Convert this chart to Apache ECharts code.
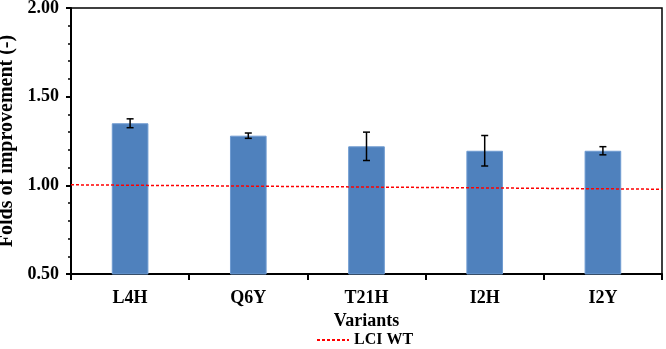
<!DOCTYPE html>
<html>
<head>
<meta charset="utf-8">
<script src="https://cdn.jsdelivr.net/npm/echarts@6/dist/echarts.min.js"></script>
<style>
  html, body { margin: 0; padding: 0; background: #fff; }
  #chart { width: 666px; height: 349px; }
</style>
</head>
<body>
<div id="chart"></div>
<script>
var variants = ['L4H', 'Q6Y', 'T21H', 'I2H', 'I2Y'];
var folds = [1.35, 1.28, 1.22, 1.195, 1.195];
var foldErr = [0.025, 0.015, 0.08, 0.086, 0.023];
// wild type reference line, left edge -> right edge
var wtPos = [0, 1];
var wtVal = [1.003, 0.978];

var font = '"Liberation Serif", "Times New Roman", serif';

var errData = variants.map(function(v, i) {
	return [i, folds[i] - foldErr[i], folds[i] + foldErr[i]];
});
var wtData = wtPos.map(function(p, i) { return [p, wtVal[i]]; });

var chart = echarts.init(document.getElementById('chart'));

chart.setOption({
	animation: false,
	grid: {
		left: 71, right: 4, top: 8, bottom: 75,
		outerBoundsMode: 'none',
		containLabel: false,
		show: true, borderColor: '#000', borderWidth: 1.5
	},
	legend: {
		top: 327,
		left: 311,
		data: ['LCI WT'],
		itemWidth: 32,
		itemHeight: 10,
		itemGap: 4,
		itemStyle: { opacity: 0 },
		textStyle: { fontFamily: font, fontWeight: 'bold', fontSize: 16, color: '#000' }
	},
	xAxis: [{
		type: 'category',
		data: variants,
		name: 'Variants',
		nameLocation: 'middle',
		nameGap: 38,
		nameTextStyle: { fontFamily: font, fontWeight: 'bold', fontSize: 18, color: '#000' },
		axisLine: { lineStyle: { color: '#000', width: 2 } },
		axisTick: { show: true, length: 6, lineStyle: { color: '#000', width: 2 } },
		axisLabel: { fontFamily: font, fontWeight: 'bold', fontSize: 18, color: '#000', margin: 15 }
	}, {
		type: 'value',
		min: 0, max: 1,
		show: false
	}],
	yAxis: {
		type: 'value',
		min: 0.5, max: 2.0, interval: 0.5,
		name: 'Folds of improvement (-)',
		nameLocation: 'middle',
		nameGap: 52,
		nameTextStyle: { fontFamily: font, fontWeight: 'bold', fontSize: 20, color: '#000' },
		axisLine: { show: true, lineStyle: { color: '#000', width: 2 } },
		axisTick: { show: true, length: 5, lineStyle: { color: '#000', width: 2 } },
		minorTick: { show: true, splitNumber: 5, length: 3, lineStyle: { color: '#000', width: 1.5 } },
		splitLine: { show: false },
		axisLabel: {
			fontFamily: font, fontWeight: 'bold', fontSize: 18, color: '#000', margin: 12,
			formatter: function(v) { return v.toFixed(2); }
		}
	},
	series: [{
		name: 'Folds',
		type: 'bar',
		data: folds,
		barWidth: '31%',
		itemStyle: { color: '#4f81bd', borderColor: '#6f9bd1', borderWidth: 1 },
		z: 2
	}, {
		name: 'err',
		type: 'custom',
		data: errData,
		z: 3,
		renderItem: function(params, api) {
			var x = api.value(0);
			var lo = api.coord([x, api.value(1)]);
			var hi = api.coord([x, api.value(2)]);
			var cap = 3.5;
			var st = { stroke: '#000', lineWidth: 1.5 };
			return {
				type: 'group',
				children: [
					{ type: 'line', shape: { x1: lo[0], y1: lo[1], x2: hi[0], y2: hi[1] }, style: st },
					{ type: 'line', shape: { x1: lo[0] - cap, y1: lo[1], x2: lo[0] + cap, y2: lo[1] }, style: st },
					{ type: 'line', shape: { x1: hi[0] - cap, y1: hi[1], x2: hi[0] + cap, y2: hi[1] }, style: st }
				]
			};
		}
	}, {
		name: 'LCI WT',
		type: 'line',
		xAxisIndex: 1,
		data: wtData,
		symbol: 'none',
		itemStyle: { color: '#ff0000' },
		lineStyle: { color: '#ff0000', width: 1.5, type: [3, 2] },
		z: 4
	}]
});
</script>
</body>
</html>
